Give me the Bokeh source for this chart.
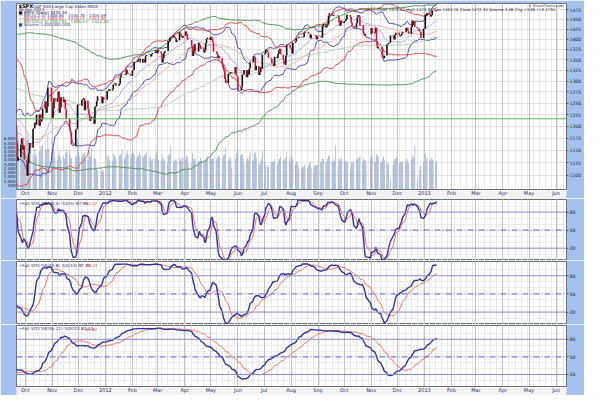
import numpy as np
import pandas as pd
from bokeh.plotting import figure
from bokeh.layouts import column
from bokeh.models import (Range1d, LinearAxis, FixedTicker, Span, Label, LinearScale,
                          ColumnDataSource, Grid, NumeralTickFormatter)
from bokeh.embed import file_html
from bokeh.resources import INLINE

# ---------------- DATA ----------------
# $SPX daily closes, by month (18-Feb-2011 .. 15-Jan-2013)
c_2011_02 = [1343, 1315, 1307, 1306, 1320, 1327]
c_2011_03 = [1306, 1308, 1330, 1321, 1311, 1322, 1320, 1295, 1304, 1296, 1282, 1257, 1273, 1279, 1299, 1294,
             1298, 1309, 1314, 1310, 1320, 1328, 1326]
c_2011_04 = [1332, 1333, 1332, 1336, 1333, 1328, 1324, 1314, 1315, 1314, 1320, 1305, 1312, 1330, 1338, 1336,
             1348, 1356, 1360, 1364]
c_2011_05 = [1361, 1357, 1348, 1336, 1340, 1347, 1357, 1342, 1348, 1338, 1329, 1328, 1341, 1344, 1333, 1317,
             1316, 1320, 1326, 1331, 1345]
c_2011_06 = [1315, 1312, 1300, 1286, 1284, 1280, 1289, 1271, 1271, 1288, 1265, 1268, 1272, 1278, 1296, 1288,
             1284, 1268, 1281, 1297, 1308, 1321]
c_2011_07 = [1340, 1337, 1339, 1353, 1344, 1319, 1314, 1317, 1309, 1316, 1305, 1327, 1326, 1343, 1345, 1337,
             1332, 1304, 1300, 1292]
c_2011_08 = [1286, 1254, 1260, 1200, 1199, 1119, 1172, 1121, 1172, 1179, 1204, 1192, 1193, 1140, 1123, 1123,
             1162, 1177, 1159, 1177, 1210, 1213, 1219]
c_2011_09 = [1204, 1174, 1166, 1199, 1186, 1154, 1162, 1172, 1189, 1209, 1216, 1204, 1202, 1166, 1129, 1136,
             1162, 1175, 1151, 1160, 1131]
c_2011_10 = [1099.23, 1123.95, 1144.03, 1164.97, 1155.46, 1194.89, 1195.54, 1207.25, 1203.66, 1224.58,
             1200.86, 1225.38, 1209.88, 1215.39, 1238.25, 1254.19, 1229.05, 1242.00, 1284.59, 1285.09, 1253.30]
c_2011_11 = [1218.28, 1237.90, 1261.15, 1253.23, 1261.12, 1275.92, 1229.10, 1239.69, 1263.85, 1251.78,
             1257.81, 1236.91, 1216.13, 1215.65, 1192.98, 1188.04, 1161.79, 1158.67, 1192.55, 1195.19, 1246.96]
c_2011_12 = [1244.58, 1244.28, 1257.08, 1258.47, 1261.01, 1234.35, 1255.19, 1236.47, 1225.73, 1211.82,
             1215.75, 1219.66, 1205.35, 1241.30, 1243.72, 1254.00, 1265.33, 1265.43, 1249.64, 1263.02, 1257.60]
c_2012_01 = [1277.06, 1277.30, 1281.06, 1277.81, 1280.70, 1292.08, 1292.48, 1295.50, 1289.09, 1293.67,
             1308.04, 1314.50, 1315.38, 1316.00, 1314.65, 1326.06, 1318.43, 1316.33, 1313.01, 1312.41]
c_2012_02 = [1324.09, 1325.54, 1344.90, 1344.33, 1347.05, 1349.96, 1351.95, 1342.64, 1351.77, 1350.50,
             1343.23, 1358.04, 1361.23, 1362.21, 1357.66, 1363.46, 1365.74, 1367.59, 1372.18, 1365.68]
c_2012_03 = [1374.09, 1369.63, 1364.33, 1343.36, 1352.63, 1365.91, 1370.87, 1371.09, 1395.95, 1394.28,
             1402.60, 1404.17, 1409.75, 1405.52, 1402.89, 1392.78, 1397.11, 1416.51, 1412.52, 1405.54,
             1403.28, 1408.47]
c_2012_04 = [1419.04, 1413.38, 1398.96, 1398.08, 1382.20, 1358.59, 1368.71, 1387.57, 1370.26, 1369.57,
             1390.78, 1385.14, 1376.92, 1378.53, 1366.94, 1371.97, 1390.69, 1399.98, 1403.36, 1397.91]
c_2012_05 = [1405.82, 1402.31, 1391.57, 1369.10, 1369.58, 1363.72, 1354.58, 1357.99, 1353.39, 1338.35,
             1330.66, 1324.80, 1304.86, 1295.22, 1315.99, 1316.63, 1318.86, 1320.68, 1317.82, 1332.42,
             1313.32, 1310.33]
c_2012_06 = [1278.04, 1278.18, 1285.50, 1315.13, 1314.99, 1325.66, 1308.93, 1324.18, 1314.88, 1329.10,
             1342.84, 1344.78, 1357.98, 1355.69, 1325.51, 1335.02, 1313.72, 1319.99, 1331.85, 1329.04, 1362.16]
c_2012_07 = [1365.51, 1374.02, 1367.58, 1354.68, 1352.46, 1341.47, 1341.45, 1334.76, 1356.78, 1353.64,
             1363.67, 1372.78, 1376.51, 1362.66, 1350.52, 1338.31, 1337.89, 1360.02, 1385.97, 1385.30, 1379.32]
c_2012_08 = [1375.32, 1365.00, 1390.99, 1394.23, 1401.35, 1402.22, 1402.80, 1405.87, 1404.11, 1403.93,
             1405.53, 1415.51, 1418.16, 1418.13, 1413.17, 1413.49, 1402.08, 1411.13, 1410.44, 1409.30,
             1410.49, 1399.48, 1406.58]
c_2012_09 = [1404.94, 1403.44, 1432.12, 1437.92, 1429.08, 1433.56, 1436.56, 1459.99, 1465.77, 1461.19,
             1459.32, 1461.05, 1460.26, 1460.15, 1456.89, 1441.59, 1433.32, 1447.15, 1440.67]
c_2012_10 = [1444.49, 1445.75, 1450.99, 1461.40, 1460.93, 1455.88, 1441.48, 1432.56, 1432.84, 1428.59,
             1440.13, 1454.92, 1460.91, 1457.34, 1433.19, 1433.82, 1413.11, 1408.75, 1412.97, 1411.94, 1412.16]
c_2012_11 = [1427.59, 1414.20, 1417.26, 1428.39, 1394.53, 1377.51, 1379.85, 1380.03, 1374.53, 1355.49,
             1353.33, 1359.88, 1386.89, 1387.81, 1391.03, 1409.15, 1406.29, 1398.94, 1409.93, 1415.95, 1416.18]
c_2012_12 = [1409.46, 1407.05, 1409.28, 1413.94, 1418.07, 1418.55, 1427.84, 1428.48, 1419.45, 1413.58,
             1430.36, 1446.79, 1435.81, 1443.69, 1430.15, 1426.66, 1419.83, 1418.10, 1402.43, 1426.19]
c_2013_01 = [1462.42, 1459.37, 1466.47, 1461.89, 1457.15, 1461.02, 1472.12, 1472.05, 1470.68, 1472.34]

# daily volume (billions of shares) from 21-Sep-2011
v_2011_09 = [5.7, 6.9, 6.1, 5.0, 4.9, 4.6, 5.2, 4.8]
v_2011_10 = [5.8, 6.9, 5.9, 5.0, 4.4, 4.1, 3.6, 4.8, 4.2, 3.9, 4.4, 5.2, 4.6, 5.1, 5.3, 4.6, 4.7, 4.8, 6.4, 4.8, 4.4]
v_2011_11 = [5.6, 4.8, 4.6, 3.8, 3.5, 4.1, 4.6, 3.9, 3.6, 3.9, 3.6, 4.3, 4.8, 4.4, 4.6, 4.0, 3.7, 1.9, 3.9, 3.9, 6.0]
v_2011_12 = [4.4, 3.9, 3.9, 4.1, 4.2, 4.3, 3.6, 3.5, 4.0, 4.4, 3.8, 4.9, 3.7, 3.6, 3.7, 2.5, 2.3, 2.1, 2.4, 2.3, 2.1]
v_2012_01 = [4.0, 3.6, 4.0, 3.5, 3.4, 4.3, 4.0, 4.1, 3.7, 4.0, 4.1, 4.1, 4.8, 3.6, 3.9, 4.2, 4.6, 4.1, 3.7, 4.2]
v_2012_02 = [4.4, 4.3, 4.1, 3.6, 3.9, 4.0, 4.4, 4.0, 3.9, 3.8, 4.1, 4.1, 4.4, 3.8, 4.0, 3.4, 3.6, 3.6, 4.1, 4.6]
v_2012_03 = [3.9, 3.5, 3.4, 4.2, 3.6, 3.6, 3.4, 3.0, 4.0, 4.1, 4.3, 5.2, 3.3, 3.4, 3.5, 3.6, 3.4, 3.6, 3.4, 3.7,
             3.4, 3.9]
v_2012_04 = [3.5, 3.9, 3.9, 3.0, 3.2, 4.3, 3.6, 3.4, 3.7, 3.1, 3.4, 3.4, 3.8, 3.5, 3.3, 3.5, 3.6, 3.5, 3.9, 3.6]
v_2012_05 = [3.8, 3.6, 3.6, 3.7, 3.4, 3.6, 3.9, 4.0, 3.8, 3.6, 3.9, 4.1, 4.1, 4.9, 3.4, 3.6, 3.9, 3.6, 2.5, 3.6,
             4.3, 4.4]
v_2012_06 = [4.6, 4.0, 4.1, 4.2, 3.7, 3.0, 3.4, 3.7, 3.4, 3.9, 4.4, 3.3, 3.6, 4.3, 4.4, 3.8, 2.9, 3.0, 3.3, 3.6, 4.6]
v_2012_07 = [3.3, 2.7, 2.9, 2.7, 3.2, 3.2, 3.4, 3.2, 3.6, 3.0, 3.1, 3.6, 3.6, 3.9, 3.4, 3.6, 3.5, 3.8, 4.4, 3.6, 3.2]
v_2012_08 = [4.0, 3.8, 3.6, 3.0, 3.3, 3.3, 2.9, 2.5, 2.5, 2.7, 2.6, 2.8, 3.0, 2.6, 2.8, 3.1, 3.3, 2.6, 2.0, 2.8,
             2.9, 2.8, 3.0]
v_2012_09 = [3.3, 3.3, 3.6, 3.6, 3.2, 3.4, 3.6, 4.0, 4.0, 3.3, 3.3, 3.7, 3.3, 5.2, 2.9, 3.6, 3.6, 3.4, 3.8]
v_2012_10 = [3.3, 3.2, 3.4, 3.4, 3.2, 2.4, 3.1, 3.4, 3.1, 3.3, 3.5, 3.7, 3.6, 3.8, 3.9, 3.2, 3.6, 3.4, 3.5, 3.0, 3.6]
v_2012_11 = [3.9, 3.9, 3.2, 3.3, 4.2, 4.0, 3.9, 3.2, 3.3, 3.6, 3.9, 3.5, 3.2, 3.1, 3.0, 1.2, 2.9, 3.3, 3.6, 3.6, 3.9]
v_2012_12 = [3.1, 3.2, 3.4, 3.2, 3.3, 3.1, 3.6, 3.6, 3.2, 3.1, 3.5, 4.1, 3.8, 3.7, 5.2, 1.3, 2.3, 2.8, 2.8, 3.2]
v_2013_01 = [4.2, 3.4, 3.7, 3.3, 3.5, 3.7, 3.6, 3.4, 3.2, 3.4]

market_holidays = ["2011-02-21", "2011-04-22", "2011-05-30", "2011-07-04", "2011-09-05", "2011-11-24",
                   "2011-12-26", "2012-01-02", "2012-01-16", "2012-02-20", "2012-04-06", "2012-05-28",
                   "2012-07-04", "2012-09-03", "2012-10-29", "2012-10-30", "2012-11-22", "2012-12-25",
                   "2013-01-01"]

month_labels = ["Oct", "Nov", "Dec", "2012", "Feb", "Mar", "Apr", "May", "Jun", "Jul", "Aug", "Sep",
                "Oct", "Nov", "Dec", "2013", "Feb", "Mar", "Apr", "May", "Jun"]
price_ticks = [1100, 1125, 1150, 1175, 1200, 1225, 1250, 1275, 1300, 1325, 1350, 1375,
               1400, 1425, 1450, 1475]
volume_ticks = [500, 1000, 1500, 2000, 2500, 3000, 3500, 4000, 4500, 5000, 5500, 6000]
stoch_ticks = [20, 50, 80]
hline_level = 1216
last_ohl = [1470.67, 1473.31, 1463.76]

# indicator settings: (period, width) for bands, (lookback, K smoothing, D smoothing) for stochastics
bb_params = [(20, 2.0, "#3b3bb6", "#a9a9e6"), (50, 2.0, "#e03838", "#f3a8a8"), (150, 2.0, "#3a8f3a", "#a8d2a8")]
sto_params = [(30, 5, 5), (45, 8, 13), (55, 21, 21)]

# ---------------- PREP ----------------
closes = (c_2011_02 + c_2011_03 + c_2011_04 + c_2011_05 + c_2011_06 + c_2011_07 + c_2011_08 + c_2011_09 +
          c_2011_10 + c_2011_11 + c_2011_12 + c_2012_01 + c_2012_02 + c_2012_03 + c_2012_04 + c_2012_05 +
          c_2012_06 + c_2012_07 + c_2012_08 + c_2012_09 + c_2012_10 + c_2012_11 + c_2012_12 + c_2013_01)
vols = (v_2011_09 + v_2011_10 + v_2011_11 + v_2011_12 + v_2012_01 + v_2012_02 + v_2012_03 + v_2012_04 +
        v_2012_05 + v_2012_06 + v_2012_07 + v_2012_08 + v_2012_09 + v_2012_10 + v_2012_11 + v_2012_12 +
        v_2013_01)

bd = pd.bdate_range("2011-02-18", "2013-01-15")
dates = bd[~bd.isin(pd.to_datetime(market_holidays))]
n = min(len(dates), len(closes))
dates = dates[:n]
close = np.array(closes[:n], dtype=float)
tms = dates.values.astype("datetime64[ms]").astype(np.int64).astype(float)
DAY = 86400000.0

def ms(s):
    return float(pd.Timestamp(s).value // 10**6)

X0, X1 = ms("2011-09-21"), ms("2013-06-13")
vis = tms >= X0 - 2 * DAY

cs = pd.Series(close)
def sma(s, k):
    return s.rolling(k).mean()

# ---------------- LAYOUT CONSTANTS ----------------
W = 584
BG = "#a3c3ee"
FONT = "DejaVu Sans"
LB, RB = 16, 17
xr = Range1d(X0, X1)
month_starts = pd.date_range("2011-10-01", periods=len(month_labels), freq="MS")
month_ms = [int(m.value // 10**6) for m in month_starts]
week_ms = [int(m.value // 10**6) for m in pd.date_range("2011-09-19", "2013-06-17", freq="W-MON")]

def base_fig(h, yr, top=1, xloc=None, **kw):
    return figure(width=W, height=h, x_axis_type="datetime", y_axis_location="right",
                  x_axis_location=xloc, x_range=xr, y_range=yr, output_backend="svg",
                  toolbar_location=None, min_border_left=LB, min_border_right=RB,
                  min_border_top=top, min_border_bottom=0, border_fill_color=BG,
                  background_fill_color="white", outline_line_color="#6f6f6f", **kw)

def style_common(f):
    f.xgrid.ticker = FixedTicker(ticks=week_ms)
    f.xgrid.grid_line_color = "#e8e8e8"
    f.add_layout(Grid(dimension=0, ticker=FixedTicker(ticks=month_ms), grid_line_color="#c2c2c2"))
    f.ygrid.grid_line_color = "#e2e2e2"

def style_xaxis(ax):
    ax.ticker = FixedTicker(ticks=month_ms)
    ax.major_label_overrides = {m: l for m, l in zip(month_ms, month_labels)}
    ax.major_label_text_font_size = "5px"
    ax.major_label_text_font = FONT
    ax.major_label_text_color = "#1c2a66"
    ax.major_tick_line_color = None
    ax.minor_tick_line_color = None
    ax.axis_line_color = "#6f6f6f"
    ax.axis_label = None
    ax.axis_label_standoff = 0
    ax.major_label_standoff = 0
    ax.major_tick_out = 0
    ax.major_tick_in = 0
    try:
        ax.background_fill_color = "#f3f3f3"
    except Exception:
        pass

def style_yaxis(ax, ticks):
    ax.ticker = FixedTicker(ticks=ticks)
    ax.major_label_text_font_size = "4.6px"
    ax.major_label_text_font = FONT
    ax.major_label_text_color = "#1a1a1a"
    ax.major_tick_line_color = "#555555"
    ax.major_tick_out = 2
    ax.major_tick_in = 0
    ax.minor_tick_line_color = None
    ax.axis_line_color = None
    ax.major_label_standoff = 1

def tag(f, x, y, text, color, fill="white", tcolor="#111111"):
    f.add_layout(Label(x=x, y=y, text=text, text_font=FONT, text_font_size="3.7px",
                       text_color=tcolor, text_baseline="middle", x_offset=0.5, padding=0,
                       background_fill_color=fill, border_line_color=color, border_line_width=0.7))

# ---------------- MAIN PRICE CHART (log price scale) ----------------
YL, YH = 1073.0, 1491.0
p = base_fig(198, Range1d(YL, YH), top=3, xloc="below", y_axis_type="log")
style_common(p)
style_xaxis(p.xaxis[0])
p.ygrid.ticker = FixedTicker(ticks=price_ticks)
style_yaxis(p.yaxis[0], price_ticks)
p.yaxis[0].formatter = NumeralTickFormatter(format="0")

# volume
p.extra_y_ranges = {"vol": Range1d(0, 22000)}
p.extra_y_scales = {"vol": LinearScale()}
vs = np.searchsorted(tms, X0)
nv = min(len(vols), n - vs)
vsrc = ColumnDataSource(dict(x=tms[vs:vs + nv], top=np.array(vols[:nv]) * 1000.0))
p.vbar(x="x", top="top", bottom=0, width=0.8 * DAY, source=vsrc, y_range_name="vol",
       fill_color="#92a8cb", fill_alpha=0.95, line_color=None)
vax = LinearAxis(y_range_name="vol", formatter=NumeralTickFormatter(format="0,0"))
style_yaxis(vax, volume_ticks)
vax.major_tick_line_color = None
vax.major_tick_out = 0
vax.major_label_text_font_size = "4.1px"
p.add_layout(vax, "left")

p.add_layout(Span(location=hline_level, dimension="width", line_color="#5cb85c", line_width=1))

# Bollinger bands
band_vals = []
for (k, wdt, col, mcol) in bb_params:
    mid = sma(cs, k)
    sd = cs.rolling(k).std(ddof=0)
    up, lo = mid + wdt * sd, mid - wdt * sd
    ok = vis & mid.notna().values
    p.line(tms[ok], mid.values[ok], line_color=mcol, line_width=0.9)
    p.line(tms[ok], up.values[ok], line_color=col, line_width=0.9)
    p.line(tms[ok], lo.values[ok], line_color=col, line_width=0.9)
    band_vals.append((up.values[-1], mid.values[-1], lo.values[-1], col, mcol))

# candles (open taken as prior close)
prev = np.concatenate([[close[0]], close[:-1]])
ccol = np.where(close < prev, "#d8102a", "#111111")
csrc = ColumnDataSource(dict(x=tms[vis], y0=prev[vis], y1=close[vis], c=ccol[vis]))
p.segment(x0="x", y0="y0", x1="x", y1="y1", line_color="c", line_width=1.6, source=csrc)

def rx(px):
    return X0 + (px - 17) / 566.0 * (X1 - X0)
def ry(py):
    return YH * np.exp(-(py - 3) / 195.0 * np.log(YH / YL))

def txt(f, x, y, s, color="#111111", size="4.6px", align="left", bold=False):
    f.add_layout(Label(x=x, y=y, text=s, text_font=FONT, text_font_size=size,
                       text_color=color, text_align=align, text_baseline="middle",
                       text_font_style="bold" if bold else "normal"))

txt(p, rx(19), ry(6), "$SPX", "#000000", "5px", bold=True)
txt(p, rx(34), ry(6), "S&P 500 Large Cap Index  INDX", "#1a1a6a", "4.2px")
txt(p, rx(19), ry(9.5), "16-Jan-2013", "#1a1a6a", "4.2px")
txt(p, rx(580), ry(5.5), "\u00a9 StockCharts.com", "#333333", "3.6px", align="right")
chg = close[-1] - close[-2]
txt(p, rx(578), ry(9),
    "Open %.2f  High %.2f  Low %.2f  Close %.2f  Volume %.1fB  Chg %+.2f (%+.2f%%)"
    % (last_ohl[0], last_ohl[1], last_ohl[2], close[-1], vols[-1], chg, 100 * chg / close[-2]),
    "#111133", "3.9px", align="right")
txt(p, rx(19), ry(12.5), "\u25a0 $SPX (Daily) %.2f" % close[-1], "#000000", "4.1px")
yy = 15.7
for (k, wdt, col, mcol), (u, m, l, _, _) in zip(bb_params, band_vals):
    txt(p, rx(19), ry(yy), "\u2014 BB(%d,%.1f) %.2f - %.2f - %.2f" % (k, wdt, u, m, l), col, "4.1px")
    yy += 3.2
txt(p, rx(19), ry(yy), "\u25a0 Volume %s" % format(int(vols[-1] * 1e9), ","), "#334488", "4.1px")

tag(p, X1, close[-1], "%.2f" % close[-1], "#222222", fill="#222222", tcolor="white")
for (u, m, l, col, mcol) in band_vals:
    tag(p, X1, u, "%.2f" % u, col)
    tag(p, X1, l, "%.2f" % l, col)

# ---------------- STOCHASTIC PANELS ----------------
def stoch(nk, sk, sd):
    ll = cs.rolling(nk).min()
    hh = cs.rolling(nk).max()
    fk = 100.0 * (cs - ll) / (hh - ll)
    K = sma(fk, sk)
    D = sma(K, sd)
    return K.values, D.values

def panel(h, prm, ytop, bottom=False):
    f = base_fig(h, Range1d(-0.5, ytop), xloc="below" if bottom else None)
    style_common(f)
    if bottom:
        style_xaxis(f.xaxis[0])
    f.ygrid.ticker = FixedTicker(ticks=[10, 30, 40, 60, 70, 90])
    f.ygrid.grid_line_color = "#ececec"
    style_yaxis(f.yaxis[0], stoch_ticks)
    for lv in (80, 20):
        f.add_layout(Span(location=lv, dimension="width", line_color="#8a8ad0", line_width=1))
    f.add_layout(Span(location=50, dimension="width", line_color="#5a5ad0", line_width=1,
                      line_dash="6 2 1 2"))
    K, D = stoch(*prm)
    okk = vis & ~np.isnan(K)
    okd = vis & ~np.isnan(D)
    f.line(tms[okd], D[okd], line_color="#f4725e", line_width=1)
    f.line(tms[okk], K[okk], line_color="#33339e", line_width=1.4)
    fh = h - 1 - (8 if bottom else 0)
    top_y = ytop - 3.5 / fh * (ytop + 0.5)
    f.add_layout(Label(x=rx(19), y=top_y, text="\u2014", text_font=FONT, text_font_size="4.6px",
                       text_color="#33339e", text_baseline="middle"))
    f.add_layout(Label(x=rx(23), y=top_y,
                       text="Full STO %%K(%d,%d) %%D(%d)  %.2f," % (prm[0], prm[1], prm[2], K[-1]),
                       text_font=FONT, text_font_size="4.2px", text_color="#1a1a5a",
                       text_baseline="middle"))
    f.add_layout(Label(x=rx(88), y=top_y, text="%.2f" % D[-1], text_font=FONT,
                       text_font_size="4.2px", text_color="#e0503c", text_baseline="middle"))
    tag(f, X1, K[-1], "%.2f" % K[-1], "#33339e")
    tag(f, X1, D[-1], "%.2f" % D[-1], "#f4725e")
    return f

s1 = panel(62, sto_params[0], 101.0)
s2 = panel(64, sto_params[1], 103.5)
s3 = panel(71, sto_params[2], 103.5, bottom=True)

layout = column(p, s1, s2, s3, spacing=0)
open("out.html", "w").write(file_html(layout, INLINE))
